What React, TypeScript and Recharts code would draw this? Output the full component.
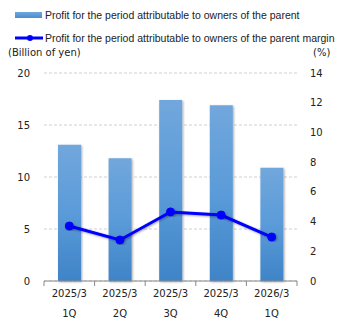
import React from "react";
import {
  ComposedChart,
  Bar,
  Line,
  XAxis,
  YAxis,
  CartesianGrid,
} from "recharts";

// 期間・四半期
const PERIODS = ["2025/3", "2025/3", "2025/3", "2025/3", "2026/3"];
const QUARTERS = ["1Q", "2Q", "3Q", "4Q", "1Q"];
// 親会社の所有者に帰属する当期利益 (十億円)
const PROFIT = [13.1, 11.8, 17.4, 16.9, 10.9];
// 利益率 (%)
const MARGIN = [3.7, 2.76, 4.65, 4.44, 2.96];

const LEFT_TICKS = [0, 5, 10, 15, 20];
const RIGHT_TICKS = [0, 2, 4, 6, 8, 10, 12, 14];

const W = 345;
const H = 330;
const LEFT_W = 44;
const RIGHT_W = 48;
const HALF_BAND = (W - LEFT_W - RIGHT_W) / PERIODS.length / 2;

const data = PERIODS.map((p, i) => ({
  key: `${p}-${QUARTERS[i]}`,
  period: p,
  quarter: QUARTERS[i],
  profit: PROFIT[i],
  margin: MARGIN[i],
}));

const FONT = "'DejaVu Sans', Verdana, sans-serif";
const LEGEND_FONT = "'Liberation Sans', Arial, sans-serif";

const XTick = (props: any) => {
  const { x, y, index } = props;
  const d = data[index];
  return (
    <g>
      <line x1={x - HALF_BAND} x2={x - HALF_BAND} y1={y} y2={y + 5} stroke="#888" />
      {index === data.length - 1 && (
        <line x1={x + HALF_BAND} x2={x + HALF_BAND} y1={y} y2={y + 5} stroke="#888" />
      )}
      <text x={x} y={y + 16} textAnchor="middle" fontSize={10} fill="#222" fontFamily={FONT}>
        {d.period}
      </text>
      <text x={x} y={y + 36} textAnchor="middle" fontSize={10} fill="#222" fontFamily={FONT}>
        {d.quarter}
      </text>
    </g>
  );
};

export default function App() {
  return (
    <div
      style={{
        position: "absolute",
        left: 0,
        top: 0,
        width: W,
        height: H,
        background: "#fff",
      }}
    >
      {/* 凡例 */}
      <div
        style={{
          position: "absolute",
          left: 15,
          top: 9,
          fontFamily: LEGEND_FONT,
          fontSize: 10.5,
          color: "#222",
          whiteSpace: "nowrap",
        }}
      >
        <div style={{ display: "flex", alignItems: "center", height: 12 }}>
          <span
            style={{
              display: "inline-block",
              width: 27,
              height: 6,
              background: "linear-gradient(#6fa6dc, #4a8dd0)",
              marginRight: 3,
            }}
          />
          Profit for the period attributable to owners of the parent
        </div>
        <div style={{ display: "flex", alignItems: "center", height: 12, marginTop: 11 }}>
          <svg width={28} height={8} style={{ marginRight: 2 }}>
            <line x1={0} x2={28} y1={4} y2={4} stroke="#0000ff" strokeWidth={3} />
            <circle cx={15} cy={4} r={3} fill="#0000ff" />
          </svg>
          Profit for the period attributable to owners of the parent margin
        </div>
      </div>
      <div
        style={{
          position: "absolute",
          left: 8,
          top: 47,
          fontFamily: FONT,
          fontSize: 10,
          color: "#222",
        }}
      >
        (Billion of yen)
      </div>
      <div
        style={{
          position: "absolute",
          left: 313,
          top: 47,
          fontFamily: FONT,
          fontSize: 10,
          color: "#222",
        }}
      >
        (%)
      </div>

      <ComposedChart
        width={W}
        height={H}
        data={data}
        margin={{ top: 73, right: 0, bottom: 0, left: 0 }}
        barCategoryGap={0}
      >
        <defs>
          <linearGradient id="barGrad" x1="0" y1="0" x2="0" y2="1">
            <stop offset="0%" stopColor="#71a7dc" />
            <stop offset="50%" stopColor="#5b9bd9" />
            <stop offset="100%" stopColor="#3f84c7" />
          </linearGradient>
          <filter id="shadow" x="-30%" y="-10%" width="160%" height="120%">
            <feDropShadow dx={1} dy={1} stdDeviation={1.2} floodColor="#000" floodOpacity={0.35} />
          </filter>
        </defs>
        <CartesianGrid
          yAxisId="left"
          vertical={false}
          stroke="#d0d0d0"
          strokeDasharray="3 2"
        />
        <XAxis
          dataKey="key"
          height={49}
          axisLine={{ stroke: "#888" }}
          tickLine={false}
          tickSize={0}
          tickMargin={0}
          tick={<XTick />}
          interval={0}
        />
        <YAxis
          yAxisId="left"
          width={LEFT_W}
          domain={[0, 20]}
          ticks={LEFT_TICKS}
          axisLine={false}
          tickLine={false}
          tickSize={0}
          tickMargin={14}
          tick={{ fontSize: 10, fill: "#222", fontFamily: FONT }}
        />
        <YAxis
          yAxisId="right"
          orientation="right"
          width={RIGHT_W}
          domain={[0, 14]}
          ticks={RIGHT_TICKS}
          axisLine={false}
          tickLine={false}
          tickSize={0}
          tickMargin={13}
          tick={{ fontSize: 10, fill: "#222", fontFamily: FONT, textAnchor: "start" }}
        />
        <Bar
          yAxisId="left"
          dataKey="profit"
          barSize={23}
          fill="url(#barGrad)"
          filter="url(#shadow)"
          isAnimationActive={false}
        />
        <Line
          yAxisId="right"
          dataKey="margin"
          stroke="#0000ff"
          strokeWidth={3}
          dot={{ r: 4, fill: "#0000ff", stroke: "#0000ff", strokeWidth: 1 }}
          filter="url(#shadow)"
          isAnimationActive={false}
        />
      </ComposedChart>
    </div>
  );
}
